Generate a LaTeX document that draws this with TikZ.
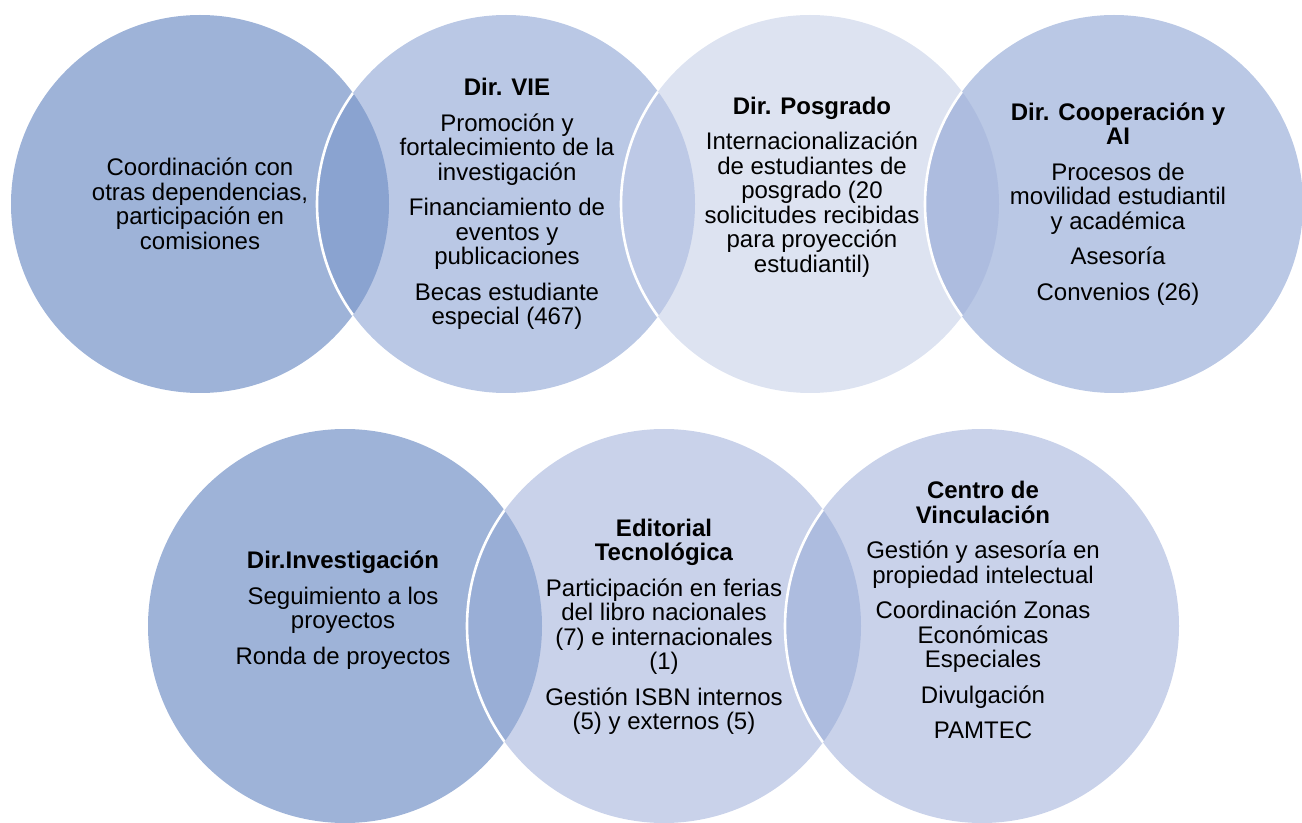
\documentclass[tikz,border=0pt]{standalone}
\usepackage{fontspec}
\setmainfont{Liberation Sans}
\usetikzlibrary{positioning}

\definecolor{vennDark}{HTML}{9EB3D8}
\definecolor{vennMid}{HTML}{BAC8E5}
\definecolor{vennPale}{HTML}{DDE3F1}
\definecolor{vennSoft}{HTML}{C9D2EA}
\definecolor{lensDark}{HTML}{8AA3D0}
\definecolor{lensMid}{HTML}{BDC9E6}
\definecolor{lensSoft}{HTML}{ADBCDF}
\definecolor{lensLow}{HTML}{99AED6}

\tikzset{
  venntext/.style={align=center, inner sep=0pt, text=black,
    font=\fontsize{12}{12.25}\selectfont},
  rim/.style={white, line width=1.3pt}
}
\newcommand{\hd}[1]{\textbf{#1}}

\begin{document}
\begin{tikzpicture}[x=0.5pt, y=-0.5pt]
        \useasboundingbox (0,0) rectangle (1302,823);
        % circle centres
        \coordinate (c1) at (200,204);
        \coordinate (c2) at (506,204);
        \coordinate (c3) at (810,204);
        \coordinate (c4) at (1114,204);
        \coordinate (c5) at (345,626);
        \coordinate (c6) at (664,626);
        \coordinate (c7) at (982,626);
        % top row
        \fill[vennDark] (c1) circle (94.5pt);
        \fill[vennMid] (c2) circle (94.5pt);
        \fill[vennPale] (c3) circle (94.5pt);
        \fill[vennMid] (c4) circle (94.5pt);
        \begin{scope}
          \clip (c1) circle (94.5pt);
          \fill[lensDark] (c2) circle (94.5pt);
          \draw[rim] (c2) circle (94.5pt);
        \end{scope}
        \begin{scope}
          \clip (c2) circle (94.5pt);
          \fill[lensMid] (c3) circle (94.5pt);
          \draw[rim] (c3) circle (94.5pt);
        \end{scope}
        \begin{scope}
          \clip (c3) circle (94.5pt);
          \fill[lensSoft] (c4) circle (94.5pt);
          \draw[rim] (c4) circle (94.5pt);
        \end{scope}
        % bottom row
        \fill[vennDark] (c5) circle (98.5pt);
        \fill[vennSoft] (c6) circle (98.5pt);
        \fill[vennSoft] (c7) circle (98.5pt);
        \begin{scope}
          \clip (c5) circle (98.5pt);
          \fill[lensLow] (c6) circle (98.5pt);
          \draw[rim] (c6) circle (98.5pt);
        \end{scope}
        \begin{scope}
          \clip (c6) circle (98.5pt);
          \fill[lensSoft] (c7) circle (98.5pt);
          \draw[rim] (c7) circle (98.5pt);
        \end{scope}
        % texts
        \node[venntext] (coord) at (200,204) {Coordinación con\\otras dependencias,\\participación en\\comisiones};
        \node[venntext] (vie) at (507,204) {\hd{Dir. VIE}\\[5.5pt]Promoción y\\fortalecimiento de la\\investigación\\[5.5pt]Financiamiento de\\eventos y\\publicaciones\\[5.5pt]Becas estudiante\\especial (467)};
        \node[venntext] (posgrado) at (812,187) {\hd{Dir. Posgrado}\\[5.5pt]Internacionalización\\de estudiantes de\\posgrado (20\\solicitudes recibidas\\para proyección\\estudiantil)};
        \node[venntext] (coop) at (1118,204) {\hd{Dir. Cooperación y}\\\hd{AI}\\[5.5pt]Procesos de\\movilidad estudiantil\\y académica\\[5.5pt]Asesoría\\[5.5pt]Convenios (26)};
        \node[venntext] (invest) at (343,610) {\hd{Dir.Investigación}\\[5.5pt]Seguimiento a los\\proyectos\\[5.5pt]Ronda de proyectos};
        \node[venntext] (editorial) at (664,627) {\hd{Editorial}\\\hd{Tecnológica}\\[5.5pt]Participación en ferias\\del libro nacionales\\(7) e internacionales\\(1)\\[5.5pt]Gestión ISBN internos\\(5) y externos (5)};
        \node[venntext] (vincula) at (983,610) {\hd{Centro de}\\\hd{Vinculación}\\[5.5pt]Gestión y asesoría en\\propiedad intelectual\\[5.5pt]Coordinación Zonas\\Económicas\\Especiales\\[5.5pt]Divulgación\\[5.5pt]PAMTEC};
\end{tikzpicture}
\end{document}
